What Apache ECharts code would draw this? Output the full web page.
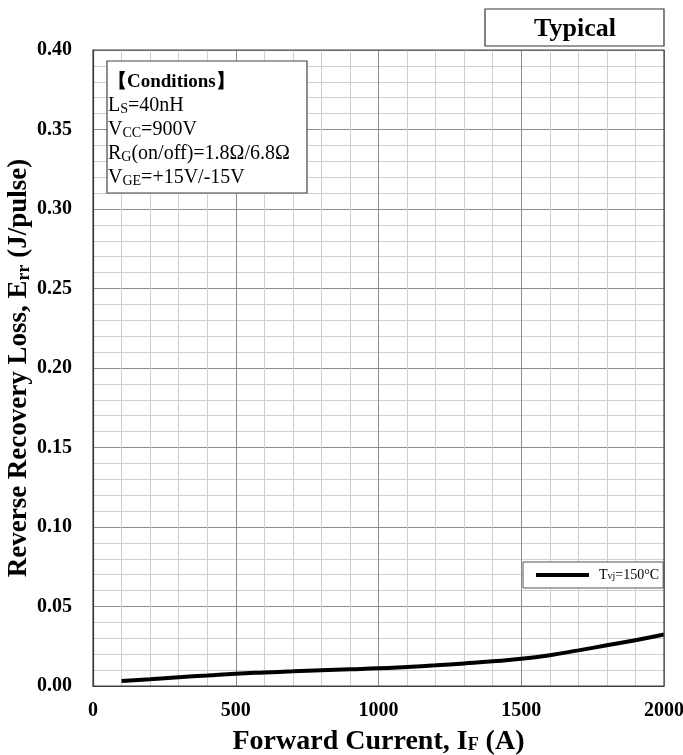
<!DOCTYPE html>
<html>
<head>
<meta charset="utf-8">
<script src="https://cdn.jsdelivr.net/npm/echarts@6/dist/echarts.min.js"></script>
<style>
html,body{margin:0;padding:0;background:#fff;}
#chart{width:683px;height:755px;}
</style>
</head>
<body>
<div id="chart"></div>
<script>
// Data
const forwardCurrent = [100,200,300,400,500,600,700,800,900,1000,1100,1200,1300,1400,1500,1600,1700,1800,1900,2000];
const errTvj150 = [0.0031,0.0043,0.0055,0.0066,0.0077,0.0085,0.0092,0.0099,0.0105,0.0111,0.0120,0.0130,0.0142,0.0155,0.0171,0.0194,0.0224,0.0256,0.0288,0.0324];
const seriesName = 'Tvj=150°C';
const xTicks = {min:0, max:2000, interval:500};
const yTicks = {min:0, max:0.4, interval:0.05};

const FONT = '"Liberation Serif","Times New Roman",serif';
const chart = echarts.init(document.getElementById('chart'), null, {renderer:'canvas'});

const LH = 24;
const sub = {fontFamily:FONT, fontSize:14, color:'#000', verticalAlign:'bottom', padding:[0,0,2,0]};
const norm = {fontFamily:FONT, fontSize:20, color:'#000'};

chart.setOption({
  animation:false,
  backgroundColor:'#fff',
  grid:{left:93, right:19, top:50, bottom:69, show:false, containLabel:false, outerBoundsMode:'none'},
  xAxis:{
    type:'value', min:xTicks.min, max:xTicks.max, interval:xTicks.interval,
    name:'{b|Forward Current, I}{s|F}{b| (A)}',
    nameLocation:'middle', nameGap:42, nameMoveOverlap:false,
    nameTextStyle:{rich:{
      b:{fontFamily:FONT, fontSize:28, fontWeight:'bold', color:'#000'},
      s:{fontFamily:FONT, fontSize:18, fontWeight:'bold', color:'#000', verticalAlign:'bottom', padding:[0,0,2,0]}
    }},
    axisLine:{show:true, onZero:false, lineStyle:{color:'#333', width:1.2}},
    axisTick:{show:false},
    axisLabel:{fontFamily:FONT, fontSize:20, fontWeight:'bold', color:'#000', margin:15,
      formatter:v=>String(v)},
    splitLine:{show:true, lineStyle:{color:'#8c8c8c', width:1}},
    minorTick:{show:false, splitNumber:5},
    minorSplitLine:{show:true, lineStyle:{color:'#cfcfcf', width:1}}
  },
  yAxis:{
    type:'value', min:yTicks.min, max:yTicks.max, interval:yTicks.interval,
    name:'{b|Reverse Recovery Loss, E}{s|rr}{b| (J/pulse)}',
    nameLocation:'middle', nameGap:60, nameRotate:90, nameMoveOverlap:false,
    nameTextStyle:{rich:{
      b:{fontFamily:FONT, fontSize:27, fontWeight:'bold', color:'#000'},
      s:{fontFamily:FONT, fontSize:18, fontWeight:'bold', color:'#000', verticalAlign:'bottom'}
    }},
    axisLine:{show:true, onZero:false, lineStyle:{color:'#333', width:1.2}},
    axisTick:{show:false},
    axisLabel:{fontFamily:FONT, fontSize:20, fontWeight:'bold', color:'#000', margin:21,
      formatter:v=>v.toFixed(2)},
    splitLine:{show:true, lineStyle:{color:'#8c8c8c', width:1}},
    minorTick:{show:false, splitNumber:5},
    minorSplitLine:{show:true, lineStyle:{color:'#cfcfcf', width:1}}
  },
  legend:{
    show:true, left:523, top:562, orient:'vertical',
    backgroundColor:'#fff', borderColor:'#555', borderWidth:1,
    padding:[6,4,6,13], itemWidth:53, itemHeight:4, itemGap:0,
    icon:'rect',
    data:[{name:seriesName, itemStyle:{color:'#000'}}],
    formatter:()=> '{g|}{t|T}{s|vj}{t|=150°C}',
    textStyle:{rich:{
      g:{width:5},
      t:{fontFamily:FONT, fontSize:14, color:'#000'},
      s:{fontFamily:FONT, fontSize:10, color:'#000', verticalAlign:'bottom', padding:[0,0,1,0]}
    }}
  },
  series:[{
    name:seriesName, type:'line', smooth:true, showSymbol:false,
    data:forwardCurrent.map((x,i)=>[x, errTvj150[i]]),
    lineStyle:{color:'#000', width:4},
    itemStyle:{color:'#000'},
    z:5
  }],
  graphic:[
    // plot frame
    {type:'rect', shape:{x:93, y:50, width:571, height:636}, style:{fill:'none', stroke:'#444', lineWidth:1.2}, z:10, silent:true},
    // Typical box
    {type:'rect', shape:{x:485, y:9, width:179, height:37}, style:{fill:'#fff', stroke:'#333', lineWidth:1.2}, z:10},
    {type:'text', x:575, y:29, style:{text:'Typical', fontFamily:FONT, fontSize:26, fontWeight:'bold', fill:'#000', textAlign:'center', textVerticalAlign:'middle'}, z:11},
    // conditions box
    {type:'rect', shape:{x:107, y:61, width:200, height:132}, style:{fill:'#fff', stroke:'#444', lineWidth:1.2}, z:10},
    {type:'text', x:108, y:70, z:11, style:{
      text:[
        '{bb|【Conditions】}',
        '{n|L}{s|S}{n|=40nH}',
        '{n|V}{s|CC}{n|=900V}',
        '{n|R}{s|G}{n|(on/off)=1.8Ω/6.8Ω}',
        '{n|V}{s|GE}{n|=+15V/-15V}'
      ].join('\n'),
      lineHeight:LH,
      rich:{
        bb:{fontFamily:FONT, fontSize:19, fontWeight:'bold', color:'#000'},
        n:norm,
        s:sub
      }
    }}
  ]
});
</script>
</body>
</html>
